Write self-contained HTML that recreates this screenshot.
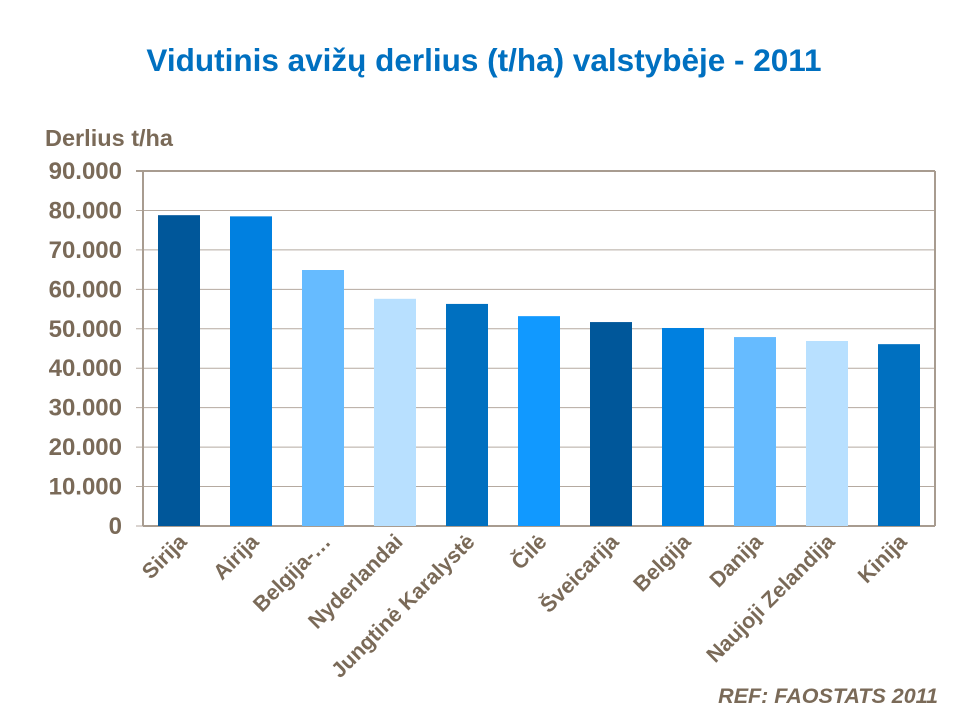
<!DOCTYPE html>
<html><head><meta charset="utf-8"><style>
body{margin:0;background:#fff;width:960px;height:720px;overflow:hidden;font-family:"Liberation Sans",sans-serif}
</style></head><body>
<svg width="960" height="720" id="chart">
<text x="484" y="71" text-anchor="middle" font-size="31.5" font-weight="bold" fill="#0070c0">Vidutinis avižų derlius (t/ha) valstybėje - 2011</text>
<text x="45" y="146" font-size="23.5" font-weight="bold" fill="#7a6a58">Derlius t/ha</text>
<text x="938" y="703" text-anchor="end" font-size="21.5" font-weight="bold" font-style="italic" fill="#7a6a58">REF: FAOSTATS 2011</text>
<g id="grid"></g><g id="bars"></g><g id="labels"></g>
</svg>
<script>
const categories=["Sirija","Airija","Belgija-…","Nyderlandai","Jungtinė Karalystė","Čilė","Šveicarija","Belgija","Danija","Naujoji Zelandija","Kinija"];
const values=[78.8,78.5,64.9,57.6,56.3,53.2,51.7,50.2,47.9,46.9,46.1];
const yTicks=[0,10,20,30,40,50,60,70,80,90];
const yTickLabels=["0","10.000","20.000","30.000","40.000","50.000","60.000","70.000","80.000","90.000"];
const colors=["#00579a","#0080e0","#66bbff","#b8e0ff","#0070c0","#1199ff"];
const L=143,R=935,T=171,B=526,yMax=90;
const y=v=>B-(v/yMax)*(B-T);
const step=(R-L)/categories.length,bw=42;
const xc=i=>L+step*(i+0.5);
const ns="http://www.w3.org/2000/svg";
function mk(tag,attrs,parent,txt){const e=document.createElementNS(ns,tag);for(const k in attrs)e.setAttribute(k,attrs[k]);if(txt!==undefined)e.textContent=txt;document.getElementById(parent).appendChild(e);return e;}
yTicks.forEach((t,i)=>{
  const g=mk('line',{x1:136,x2:R,y1:y(t),y2:y(t),stroke:t===90?'#a89c90':'#b5aaa0','stroke-width':t===90?2:1},'grid');
  
  
  const l=mk('text',{x:122,y:y(t)+8,'text-anchor':'end','font-size':24,'font-weight':'bold',fill:'#7a6a58'},'grid',yTickLabels[i]);
  
  
});
const ax=mk('line',{x1:L,x2:L,y1:T,y2:B,stroke:'#a89c90','stroke-width':2},'grid');


const ra=mk('line',{x1:R,x2:R,y1:T,y2:B,stroke:'#a89c90','stroke-width':2},'grid');


const xa=mk('line',{x1:L,x2:R,y1:B,y2:B,stroke:'#a89c90','stroke-width':2},'grid');


categories.forEach((c,i)=>{
  const r=mk('rect',{x:xc(i)-bw/2,y:y(values[i]),width:bw,height:B-y(values[i]),fill:colors[i%colors.length]},'bars');
  
  
  const t=mk('text',{x:xc(i)+9,y:543,'text-anchor':'end','font-size':21.5,'font-weight':'bold',fill:'#7a6a58',transform:`rotate(-45 ${xc(i)+9} 543)`},'labels',c);
  
  
});
</script>
</body></html>
